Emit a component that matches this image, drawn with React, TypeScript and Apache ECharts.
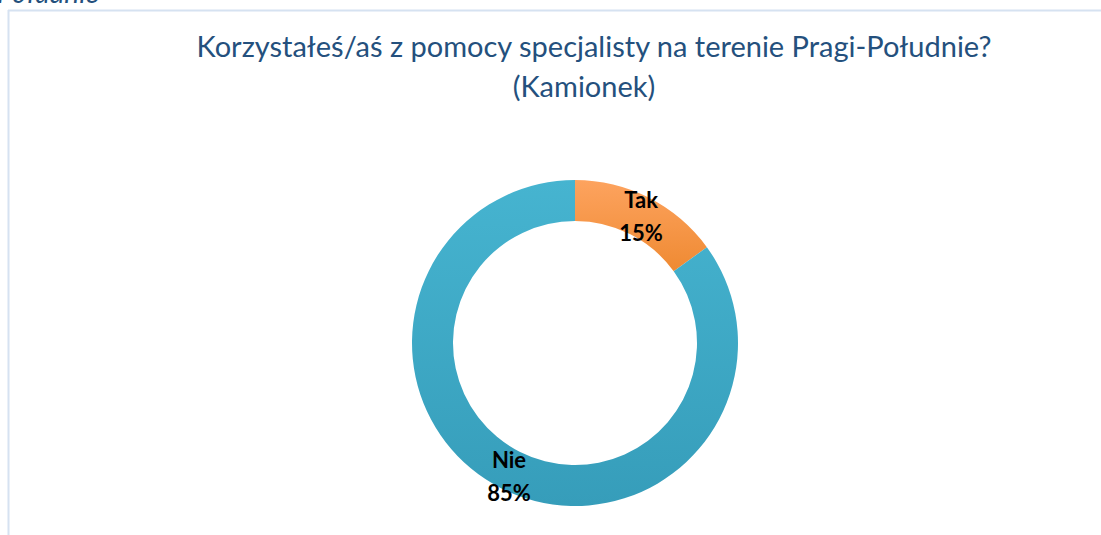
import React, { useEffect, useRef } from "react";
import * as echarts from "echarts";

const categories = ["Tak", "Nie"];
const values = [15, 85];
const titleLine1 = "Korzystałeś/aś z pomocy specjalisty na terenie Pragi-Południe?";
const titleLine2 = "(Kamionek)";
const cutText = "Południe";

export default function App() {
  const ref = useRef<HTMLDivElement>(null);
  useEffect(() => {
    const chart = echarts.init(ref.current!, undefined, { renderer: "svg" });
    const colors = [
      new echarts.graphic.LinearGradient(0, 0, 0, 1, [
        { offset: 0, color: "#fda35f" },
        { offset: 1, color: "#ef8a32" },
      ]),
      new echarts.graphic.LinearGradient(0, 0, 0, 1, [
        { offset: 0, color: "#46b4d0" },
        { offset: 1, color: "#369dba" },
      ]),
    ];
    const titleStyle = {
      fontFamily: "Lato",
      fontWeight: "normal",
      fontSize: 29,
      color: "#24507d",
      lineHeight: 40,
    };
    chart.setOption({
      animation: false,
      backgroundColor: "#ffffff",
      title: [
        { text: titleLine1, left: 589, textAlign: "center", top: 20, textStyle: titleStyle },
        { text: titleLine2, left: 579, textAlign: "center", top: 60, textStyle: titleStyle },
      ],
      graphic: [
        { type: "line", shape: { x1: 8.5, y1: 10, x2: 8.5, y2: 535 }, style: { stroke: "#d6e2f1", lineWidth: 2 } },
        { type: "line", shape: { x1: 8, y1: 10.5, x2: 1101, y2: 10.5 }, style: { stroke: "#d6e2f1", lineWidth: 2 } },
        {
          type: "text",
          x: -3,
          y: -8,
          style: {
            text: cutText,
            fontFamily: "Lato",
            fontStyle: "italic",
            fontSize: 28,
            fill: "#24507d",
            verticalAlign: "middle",
          },
        },
      ],
      series: [
        {
          type: "pie",
          center: [575, 343],
          radius: [122, 163],
          startAngle: 90,
          clockwise: true,
          label: {
            show: true,
            position: "inside",
            formatter: "{b}\n{d}%",
            fontFamily: "Lato",
            fontWeight: "bold",
            fontSize: 22,
            lineHeight: 33,
            color: "#000000",
            offset: [0, 3],
          },
          labelLine: { show: false },
          emphasis: { disabled: true },
          data: categories.map((c, i) => ({ name: c, value: values[i], itemStyle: { color: colors[i] } })),
        },
      ],
    });
    return () => chart.dispose();
  }, []);
  return <div ref={ref} style={{ position: "fixed", left: 0, top: 0, width: 1101, height: 535 }} />;
}
